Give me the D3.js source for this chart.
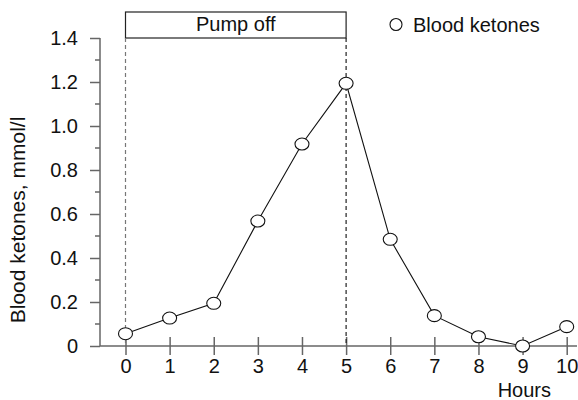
<!DOCTYPE html>
<html><head><meta charset="utf-8">
<script src="https://cdn.jsdelivr.net/npm/d3@7/dist/d3.min.js"></script>
<style>body{margin:0;background:#fff}text{font-family:"Liberation Sans",Arial,sans-serif;fill:#111}</style>
</head><body><svg id="c" width="578" height="400"></svg>
<script>
const hours = [0,1,2,3,4,5,6,7,8,9,10];
const ketones = [0.056,0.127,0.194,0.568,0.918,1.194,0.485,0.138,0.042,0.0,0.088];
const yTicks = [0,0.2,0.4,0.6,0.8,1.0,1.2,1.4];
const yMinor = [0.1,0.3,0.5,0.7,0.9,1.1,1.3];
const pumpOff = [0,5];
const svg = d3.select("#c");
const fs = 20;
const x = d3.scaleLinear().domain([0,10]).range([125.5,566.7]);
const y = d3.scaleLinear().domain([0,1.4]).range([346,38]);
const axisColor = "#666";
// x axis
const xa = svg.append("g").attr("transform","translate(0,346)")
  .call(d3.axisBottom(x).tickValues(hours).tickSize(9).tickPadding(8).tickFormat(d3.format("d")));
xa.select(".domain").remove();
xa.append("line").attr("x1",100).attr("x2",577).attr("stroke",axisColor).attr("stroke-width",1.5);
xa.selectAll(".tick line").attr("y1",-9).attr("y2",9).attr("stroke",axisColor).attr("stroke-width",1.5);
xa.selectAll("text").attr("font-size",fs).attr("font-family","Liberation Sans, Arial, sans-serif").attr("fill","#111").attr("dy","0.72em").attr("y",13);
// y axis
const ya = svg.append("g").attr("transform","translate(100,0)")
  .call(d3.axisLeft(y).tickValues(yTicks).tickSize(10).tickPadding(12)
  .tickFormat(d => d===0 ? "0" : d3.format(".1f")(d)));
ya.select(".domain").remove();
ya.append("line").attr("y1",38).attr("y2",346).attr("stroke",axisColor).attr("stroke-width",1.5);
ya.selectAll(".tick line").attr("stroke",axisColor).attr("stroke-width",1.5);
ya.selectAll("text").attr("font-size",fs).attr("font-family","Liberation Sans, Arial, sans-serif").attr("fill","#111");
ya.selectAll(".minor").data(yMinor).enter().append("line")
  .attr("x1",-5).attr("x2",0).attr("y1",d=>y(d)).attr("y2",d=>y(d))
  .attr("stroke",axisColor).attr("stroke-width",1.5);
// pump off box
svg.append("rect").attr("x",x(pumpOff[0])).attr("y",12).attr("width",x(pumpOff[1])-x(pumpOff[0])).attr("height",26)
  .attr("fill","none").attr("stroke","#222").attr("stroke-width",1.2);
svg.append("text").attr("x",(x(pumpOff[0])+x(pumpOff[1]))/2).attr("y",31).attr("text-anchor","middle")
  .attr("font-size",fs).text("Pump off");
// dashed lines
svg.selectAll(".dash").data(pumpOff).enter().append("line")
  .attr("x1",d=>x(d)).attr("x2",d=>x(d)).attr("y1",38).attr("y2",346)
  .attr("stroke",(d,i)=> i===0 ? "#777" : "#222").attr("stroke-width",1.2).attr("stroke-dasharray","4,3");
// line
svg.append("path").datum(hours.map((h,i)=>[h,ketones[i]]))
  .attr("d",d3.line().x(d=>x(d[0])).y(d=>y(d[1])))
  .attr("fill","none").attr("stroke","#111").attr("stroke-width",1.1);
svg.selectAll(".pt").data(hours).enter().append("ellipse")
  .attr("cx",d=>x(d)).attr("cy",(d,i)=>y(ketones[i])).attr("rx",7).attr("ry",6)
  .attr("fill","#fff").attr("stroke","#111").attr("stroke-width",1.1);
// legend
svg.append("circle").attr("cx",396).attr("cy",24.5).attr("r",6).attr("fill","#fff").attr("stroke","#111").attr("stroke-width",1.1);
svg.append("text").attr("x",413).attr("y",31.5).attr("font-size",fs).text("Blood ketones");
// axis titles
svg.append("text").attr("transform","translate(25,220) rotate(-90)").attr("text-anchor","middle").attr("font-size",21).text("Blood ketones, mmol/l");
svg.append("text").attr("x",551).attr("y",397).attr("text-anchor","end").attr("font-size",fs).text("Hours");
</script></body></html>
